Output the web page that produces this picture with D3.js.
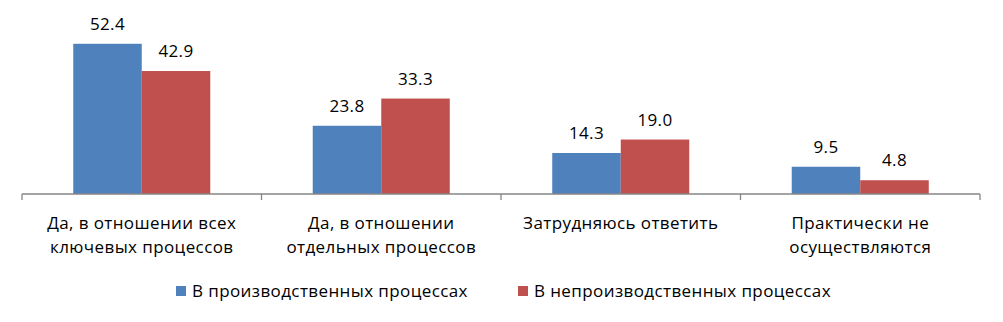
<html><head>
<style>
  body { margin: 0; background: #fff; }
  svg { display: block; font-family: "Open Sans", Lato, sans-serif; }
  text { letter-spacing: 0.4px; }
</style>
</head><body>
<div id="chart"></div>
<script src="https://cdnjs.cloudflare.com/ajax/libs/d3/7.8.5/d3.min.js"></script>
<script>
const categories = [
  ["Да, в отношении всех", "ключевых процессов"],
  ["Да, в отношении", "отдельных процессов"],
  ["Затрудняюсь ответить"],
  ["Практически не", "осуществляются"]
];
const seriesNames = ["В производственных процессах", "В непроизводственных процессах"];
const production = [52.4, 23.8, 14.3, 9.5];
const nonProduction = [42.9, 33.3, 19.0, 4.8];
const colors = ["#4F81BD", "#C0504D"];

const width = 1003, height = 322;
const left = 22, right = 980, base = 194;
const fontSize = 17;

const svg = d3.select("#chart").append("svg")
  .attr("width", width).attr("height", height);

const x = d3.scaleBand()
  .domain(d3.range(categories.length))
  .range([left, right]);

const inner = d3.scaleBand()
  .domain([0, 1])
  .range([0, x.bandwidth()])
  .paddingOuter(0.748)
  .paddingInner(0);

const y = d3.scaleLinear().domain([0, 60]).range([base, 22]);

const series = [production, nonProduction];

// bars
series.forEach((vals, s) => {
  svg.append("g").selectAll("rect")
    .data(vals)
    .join("rect")
    .attr("x", (d, i) => x(i) + inner(s))
    .attr("y", d => y(d))
    .attr("width", inner.bandwidth())
    .attr("height", d => base - y(d))
    .attr("fill", colors[s]);

  svg.append("g").selectAll("text")
    .data(vals)
    .join("text")
    .attr("x", (d, i) => x(i) + inner(s) + inner.bandwidth() / 2)
    .attr("y", d => y(d) - 14)
    .attr("text-anchor", "middle")
    .attr("font-size", fontSize)
    .attr("fill", "#000")
    .text(d => d.toFixed(1));
});

// axis
const axis = svg.append("g").attr("stroke", "#868686").attr("stroke-width", 1.3);
axis.append("line")
  .attr("x1", left).attr("x2", right)
  .attr("y1", base).attr("y2", base);
axis.selectAll("line.tick")
  .data(d3.range(categories.length + 1))
  .join("line")
  .attr("class", "tick")
  .attr("x1", i => i < categories.length ? x(i) : right)
  .attr("x2", i => i < categories.length ? x(i) : right)
  .attr("y1", base).attr("y2", base + 6);

// category labels
const cat = svg.append("g").selectAll("text")
  .data(categories)
  .join("text")
  .attr("text-anchor", "middle")
  .attr("font-size", fontSize)
  .attr("fill", "#000");
cat.selectAll("tspan")
  .data((d, i) => d.map(t => ({ t, i })))
  .join("tspan")
  .attr("x", d => x(d.i) + x.bandwidth() / 2)
  .attr("y", (d, j) => 229 + j * 24)
  .text(d => d.t);

// legend
const legendX = [176, 518];
const legend = svg.append("g");
seriesNames.forEach((name, s) => {
  legend.append("rect")
    .attr("x", legendX[s]).attr("y", 286)
    .attr("width", 10).attr("height", 10)
    .attr("fill", colors[s]);
  legend.append("text")
    .attr("x", legendX[s] + 16).attr("y", 297)
    .attr("font-size", fontSize)
    .attr("fill", "#000")
    .text(name);
});
</script>
</body></html>
